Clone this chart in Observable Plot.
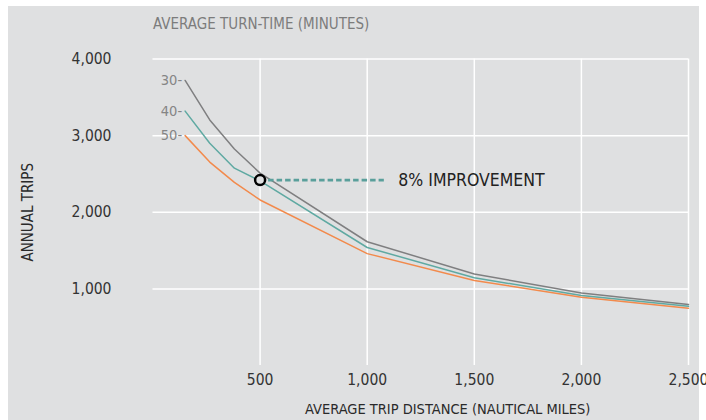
<!DOCTYPE html>
<html>
<head>
<meta charset="utf-8">
<script src="https://cdn.jsdelivr.net/npm/d3@7"></script>
<script src="https://cdn.jsdelivr.net/npm/@observablehq/plot@0.6"></script>
<style>
  html, body { margin: 0; padding: 0; background: #ffffff; }
  #panel { position: absolute; left: 8px; top: 6px; width: 691px; height: 414px; background: #dfe0e1; }
  #panel svg { overflow: visible; }
</style>
</head>
<body>
<div id="panel"></div>
<script>
// ---- data ----
const distances = [150, 265, 380, 500, 1000, 1500, 2000, 2500];
const trips30 = [3720, 3205, 2825, 2510, 1615, 1195, 945, 795];
const trips40 = [3320, 2900, 2575, 2410, 1540, 1145, 915, 772];
const trips50 = [3000, 2655, 2390, 2160, 1460, 1110, 890, 748];
const turnTimes = ["30", "40", "50"];
const xTicks = [500, 1000, 1500, 2000, 2500];
const yTicks = [1000, 2000, 3000, 4000];
const calloutDistance = [500, 1080];
const calloutTrips = 2420;
const calloutText = "8% IMPROVEMENT";
const titleText = "AVERAGE TURN-TIME (MINUTES)";
const xLabel = "AVERAGE TRIP DISTANCE (NAUTICAL MILES)";
const yLabel = "ANNUAL TRIPS";

const seriesValues = [trips30, trips40, trips50];
const rows = turnTimes.flatMap((t, i) =>
  distances.map((d, j) => ({ series: t, distance: d, trips: seriesValues[i][j] })));
const firstPoints = turnTimes.map((t, i) => ({ series: t, distance: distances[0], trips: seriesValues[i][0] }));
const colors = ["#7f7f80", "#5fa9a2", "#f28a4c"];
const font = "'Liberation Sans Narrow', 'DejaVu Sans Condensed', 'Roboto', sans-serif";

const chart = Plot.plot({
  width: 691,
  height: 414,
  marginLeft: 144.5,
  marginRight: 11,
  marginTop: 52.5,
  marginBottom: 55,
  style: { background: "transparent", fontFamily: font, overflow: "visible" },
  x: { domain: [0, 2500] },
  y: { domain: [0, 4000] },
  color: { domain: turnTimes, range: colors },
  marks: [
    Plot.gridX(xTicks, { stroke: "#ffffff", strokeOpacity: 1, strokeWidth: 1.5 }),
    Plot.gridY(yTicks, { stroke: "#ffffff", strokeOpacity: 1, strokeWidth: 1.5 }),
    Plot.axisX(xTicks, { tickSize: 0, tickPadding: 8, tickFormat: d3.format(","), fontSize: 15.5, color: "#333333", label: null }),
    Plot.axisY(yTicks, { tickSize: 0, tickPadding: 41.5, tickFormat: d3.format(","), fontSize: 15.5, color: "#333333", label: null }),
    Plot.line(rows, { x: "distance", y: "trips", z: "series", stroke: "series", strokeWidth: 1.5 }),
    Plot.text(firstPoints, { x: "distance", y: "trips", text: d => d.series + "-", textAnchor: "end", dx: -3, fill: "#858585", fontSize: 14.5 }),
    Plot.ruleY([calloutTrips], { x1: calloutDistance[0], x2: calloutDistance[1], stroke: "#5a9f9b", strokeWidth: 2.7, strokeDasharray: "5.5,3" }),
    Plot.dot([calloutTrips], { x: calloutDistance[0], y: d => d, r: 5, fill: "#dfe0e1", stroke: "#000000", strokeWidth: 2.5 }),
    Plot.text([calloutText], { x: calloutDistance[1], y: calloutTrips, text: d => d, textAnchor: "start", dx: 14, fontSize: 17.5, fill: "#222222" }),
    Plot.text([titleText], { frameAnchor: "top-left", text: d => d, textAnchor: "start", lineAnchor: "middle", dy: -35, fontSize: 15, fill: "#7c7c7c" }),
    Plot.text([xLabel], { frameAnchor: "bottom", text: d => d, lineAnchor: "middle", dx: 27, dy: 43.5, fontSize: 14.5, fill: "#2a2a2a" }),
    Plot.text([yLabel], { frameAnchor: "left", text: d => d, textAnchor: "middle", lineAnchor: "middle", rotate: -90, dx: -124.5, fontSize: 15, fill: "#2a2a2a" })
  ]
});
document.getElementById("panel").appendChild(chart);
</script>
</body>
</html>
